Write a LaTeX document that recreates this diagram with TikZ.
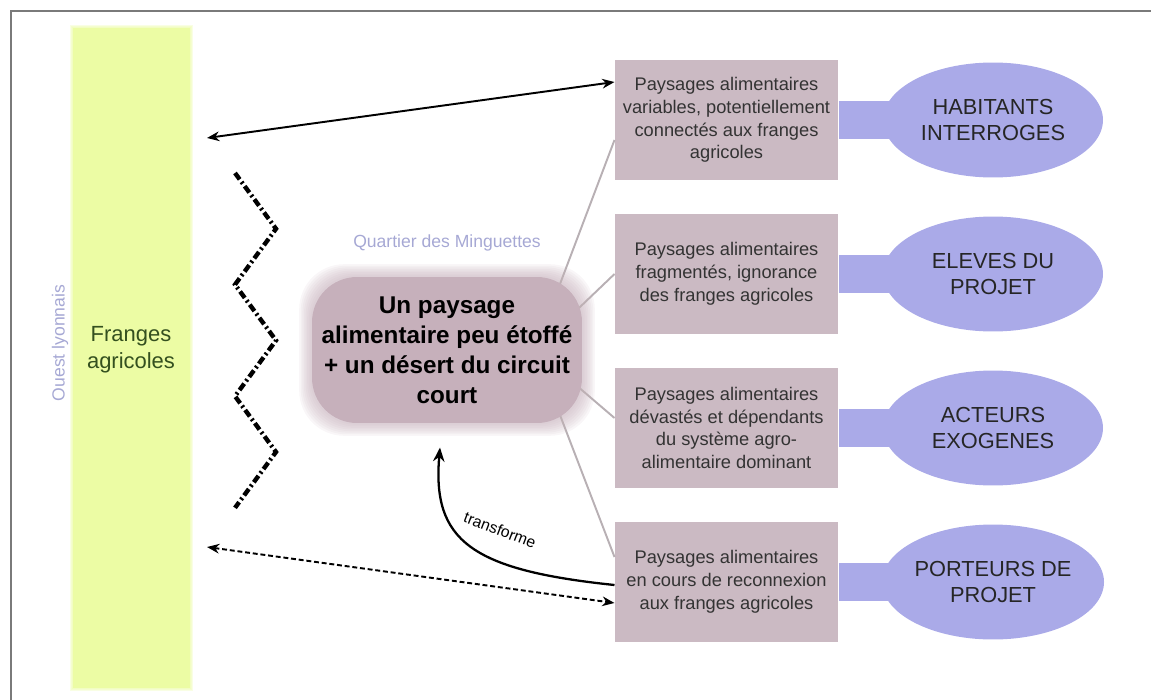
\documentclass[tikz,border=0pt]{standalone}
\usepackage{fontspec}
\setmainfont{Liberation Sans}
\usetikzlibrary{calc,shapes.geometric,arrows.meta}
\definecolor{frangeyellow}{HTML}{ECFCA4}
\definecolor{frangegreen}{HTML}{34501F}
\definecolor{mauve}{HTML}{CBBAC3}
\definecolor{blobmauve}{HTML}{C6B0BB}
\definecolor{lavender}{HTML}{AAAAE8}
\definecolor{paleblue}{HTML}{A6A8D4}
\definecolor{linkgray}{HTML}{B8B0B4}
\definecolor{framegray}{HTML}{7A7A7A}
\tikzset{
	% ---- default
	every path/.style={line width=0.6pt},
	every node/.style={inner sep=0pt, align=center},
	% ---- custom
	frame/.style={line width=1.1pt, framegray},
	bar/.style={fill=frangeyellow, minimum width=2.34cm, minimum height=13.2cm},
	franges/.style={text=frangegreen, font=\fontsize{12.5}{15.3}\selectfont},
	region/.style={text=paleblue, font=\fontsize{10}{12}\selectfont},
	zigzag/.style={line width=2.5pt, dash pattern=on 4.5pt off 1.8pt on 1.2pt off 1.8pt},
	paysage/.style={fill=mauve, minimum width=4.46cm, minimum height=2.42cm,
		text=black!80, font=\fontsize{10.4}{13}\selectfont},
	acteur/.style={ellipse, fill=lavender, minimum width=4.4cm, minimum height=2.3cm,
		text=black!85, font=\fontsize{12.4}{15}\selectfont},
	blob/.style={fill=blobmauve, rounded corners=0.9cm, minimum width=5.4cm, minimum height=2.92cm,
		text=black, font=\bfseries\fontsize{13.8}{17}\selectfont},
	link/.style={line width=1.1pt, linkgray},
	echange/.style={line width=1.1pt, {Stealth[length=7pt,width=5.5pt]}-{Stealth[length=7pt,width=5.5pt]}},
	transfo/.style={line width=1.3pt, -{Stealth[length=8pt,width=6.5pt]}},
}
\begin{document}
\begin{tikzpicture}[x=0.02cm, y=-0.02cm]

% parameters %{{{2

	\def\rectx{726.5}
	\def\ellx{993}
	\def\blobx{447}
	\def\bloby{350}
	\def\blobw{135}
	\def\blobh{73}

% frame %{{{2

	\useasboundingbox (0,0) rectangle (1151,699);
	\draw[frame] (11,710) -- (11,11) -- (1160,11);

% coordinates %{{{2

	\coordinate (hub) at (535,350);
	\coordinate (FT) at (207,138);
	\coordinate (FB) at (207,547);

% coordinate for zigzag vertices %{{{3

	\foreach \i in {0,...,6} {
		\pgfmathsetmacro{\zx}{ifthenelse(mod(\i,2)==0, 235, 276)}
		\coordinate (Z\i) at (\zx, 173+\i*55.8);
	}

% franges agricoles %{{{2

	\foreach \k in {1,...,3} {
		\fill[frangeyellow, opacity=0.3] (73-\k, 28-\k) rectangle (190+\k, 688+\k);
	}
	\node[bar] (bar) at (131.5,358) {};
	\node[franges] (fr) at (131,350) {Franges\\agricoles};
	\node[region, rotate=90] (ouest) at (60,343) {Ouest lyonnais};

	\draw[zigzag] (Z0) \foreach \i in {1,...,6} { -- (Z\i) };

% paysages %{{{2

	\node[paysage] (r1) at (\rectx,120) {Paysages alimentaires\\variables, potentiellement\\connectés aux franges\\agricoles};
	\node[paysage] (r2) at (\rectx,274) {Paysages alimentaires\\fragmentés, ignorance\\des franges agricoles};
	\node[paysage] (r3) at (\rectx,428) {Paysages alimentaires\\dévastés et dépendants\\du système agro-\\alimentaire dominant};
	\node[paysage] (r4) at (\rectx,582) {Paysages alimentaires\\en cours de reconnexion\\aux franges agricoles};

% links behind the blob %{{{3

	\foreach \i/\dy in {1/20, 2/0, 3/-10, 4/-25} {
		\draw[link] (hub) -- ($(r\i.west)+(0,\dy)$);
	}

% blob %{{{2

	\foreach \k in {8,7,...,1} {
		\fill[blobmauve, opacity=0.11, rounded corners=0.9cm]
			(\blobx-\blobw-\k*1.6, \bloby-\blobh-\k*1.6) rectangle (\blobx+\blobw+\k*1.6, \bloby+\blobh+\k*1.6);
	}
	\node[blob] (blob) at (\blobx,\bloby) {Un paysage\\alimentaire peu étoffé\\+ un désert du circuit\\court};
	\node[region] (quartier) at (447,243) {Quartier des Minguettes};

% acteurs %{{{2

	\foreach \i in {1,...,4} {
		\fill[lavender] (r\i.east) ++(0,-19) rectangle ++(110,38);
	}

	\node[acteur] (e1) at (\ellx,120) {HABITANTS\\INTERROGES};
	\node[acteur] (e2) at (\ellx,274) {ELEVES DU\\PROJET};
	\node[acteur] (e3) at (\ellx,428) {ACTEURS\\EXOGENES};
	\node[acteur] (e4) at (\ellx,582) {PORTEURS DE\\PROJET};

% arrows %{{{2

	\draw[echange] (FT) -- ($(r1.west)+(0,-38)$);
	\draw[echange, dash pattern=on 2.8pt off 1.6pt] (FB) -- ($(r4.west)+(0,21)$);

	\draw[transfo] ($(r4.west)+(0,3)$) .. controls (470,570) and (432,540) .. ($(blob.south)+(-7,24)$);
	\node[font=\fontsize{9}{10}\selectfont, rotate=-21] (tlabel) at (500,530) {transforme};

% closing %{{{2

\end{tikzpicture}
\end{document}
